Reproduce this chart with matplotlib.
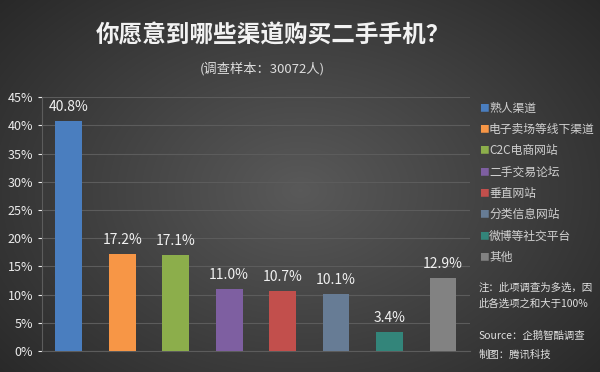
import matplotlib.pyplot as plt
import numpy as np

plt.rcParams['font.family'] = ['Noto Sans CJK SC', 'DejaVu Sans']

# data
categories = ['熟人渠道', '电子卖场等线下渠道', 'C2C电商网站', '二手交易论坛',
              '垂直网站', '分类信息网站', '微博等社交平台', '其他']
values = [40.8, 17.2, 17.1, 11.0, 10.7, 10.1, 3.4, 12.9]
colors = ['#4a7ebf', '#f79646', '#8cae4b', '#7e5fa1', '#c24f4c',
          '#677c95', '#33857a', '#828282']
yticks = [0, 5, 10, 15, 20, 25, 30, 35, 40, 45]

fig = plt.figure(figsize=(6, 3.72), dpi=100)

# radial dark background
bg = fig.add_axes([0, 0, 1, 1], zorder=-10)
yy, xx = np.mgrid[0:372, 0:600]
r = np.sqrt(((xx - 300) / 420.0) ** 2 + ((yy - 190) / 300.0) ** 2)
shade = np.clip(0.35 - 0.2 * r, 0.16, 0.35)
bg.imshow(np.dstack([shade] * 3), aspect='auto', extent=[0, 1, 0, 1])
bg.axis('off')

ax = fig.add_axes([0.07, 0.0565, 0.713, 0.6825])
ax.patch.set_alpha(0)
x = np.arange(len(categories))
bars = ax.bar(x, values, width=0.5, color=colors, zorder=3)

for b, v in zip(bars, values):
    ax.text(b.get_x() + b.get_width() / 2, v + 1.2, f'{v:.1f}%',
            ha='center', va='bottom', fontsize=10, color='#f0f0f0')

ax.set_xlim(-0.5, len(categories) - 0.5)
ax.set_ylim(0, 45)
ax.set_yticks(yticks)
ax.set_yticklabels([f'{t}%' for t in yticks])
ax.set_xticks([])
ax.tick_params(axis='y', colors='#ececec', labelsize=9, length=3)
ax.yaxis.grid(True, color='#5c5c5c', lw=0.8, zorder=0)
for s in ['top', 'right']:
    ax.spines[s].set_visible(False)
ax.spines['left'].set_color('#5c5c5c')
ax.spines['bottom'].set_color('#5c5c5c')

# legend
for i, (c, col) in enumerate(zip(categories, colors)):
    yp = 1 - (108 + i * 21.3) / 372
    fig.text(0.799, yp, '■', color=col, fontsize=7, ha='left', va='center')
    fig.text(0.815, yp, c, color='#d0d0d0', fontsize=8.5, ha='left', va='center')

# titles
fig.text(0.455, 0.905, '你愿意到哪些渠道购买二手手机？', ha='center', va='center',
         fontsize=17, fontweight='bold', color='#f2f2f2')
fig.text(0.437, 0.815, '(调查样本：30072人)', ha='center', va='center',
         fontsize=9.5, color='#dddddd')

# notes
fig.text(0.797, 1 - 296 / 372, '注：此项调查为多选，因\n此各选项之和大于100%',
         ha='left', va='center', fontsize=7.5, style='italic', color='#e0e0e0',
         linespacing=1.7)
fig.text(0.797, 1 - 336 / 372, 'Source：企鹅智酷调查', ha='left', va='center',
         fontsize=7.5, style='italic', color='#e0e0e0')
fig.text(0.797, 1 - 355 / 372, '制图：腾讯科技', ha='left', va='center',
         fontsize=7.5, style='italic', color='#e0e0e0')

fig.savefig('out.png', dpi=100)
